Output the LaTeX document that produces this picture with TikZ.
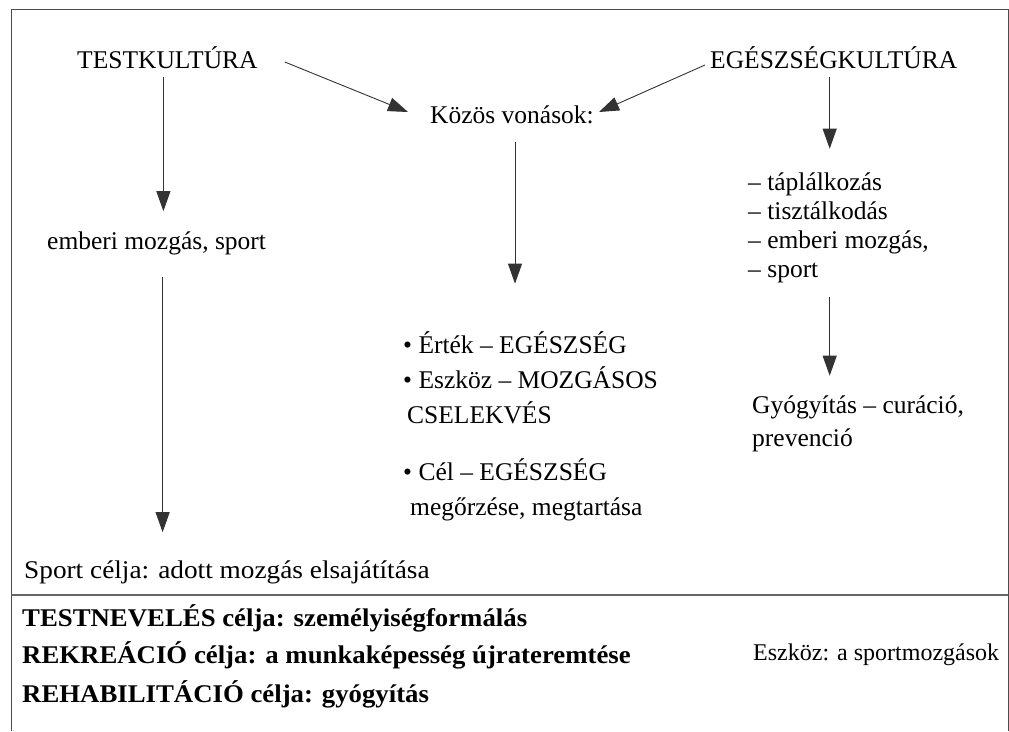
\documentclass[tikz,border=0pt]{standalone}
\usepackage{fontspec}
\setmainfont{Liberation Serif}
\usetikzlibrary{arrows.meta,positioning}

\begin{document}
\begin{tikzpicture}[x=1pt,y=-1pt,
    txt/.style ={inner sep=0pt, anchor=west, align=left, font=\fontsize{25.5}{29}\selectfont},
    goal/.style ={txt, font=\bfseries\fontsize{25.5}{29}\selectfont},
    arr/.style ={draw=black!80, line width=0.9pt, -{Triangle[length=20pt,width=14pt]}}]
   \useasboundingbox (0,0) rectangle (1009,731);
   % frame and divider
   \draw[line width=1pt, black!70] (11,731) -- (11,9) -- (1008,9) -- (1008,731);
   \draw[line width=1.3pt, black!60] (11,595) -- (1008,595);
   % top row
   \node[txt] (tk) at (77,58) {TESTKULTÚRA};
   \node[txt] (eg) at (710,58) {EGÉSZSÉGKULTÚRA};
   \node[txt] (kv) at (430,115) {Közös vonások:};
   % left column
   \node[txt] (emb) at (47,243) {emberi mozgás, sport};
   \node[txt] (sc) at (24,572) {\scalebox{1.07}[1]{Sport célja: adott mozgás elsajátítása}};
   % middle column
   \node[txt, font=\fontsize{25.5}{35}\selectfont] (ert) at (403,378)
      {\textbullet{} Érték – EGÉSZSÉG\\ \textbullet{} Eszköz – MOZGÁSOS\\ \hspace*{4pt}CSELEKVÉS};
   \node[txt, font=\fontsize{25.5}{35}\selectfont] (cel) at (403,490)
      {\textbullet{} Cél – EGÉSZSÉG\\ \hspace*{7pt}megőrzése, megtartása};
   % right column
   \node[txt] (lst) at (748,228)
      {– táplálkozás\\ – tisztálkodás\\ – emberi mozgás,\\ – sport};
   \node[txt, font=\fontsize{25.5}{33}\selectfont] (gyo) at (752,424)
      {Gyógyítás – curáció,\\ prevenció};
   % bottom goals
   \node[goal] (tn) at (22,618) {\scalebox{1.05}[1]{TESTNEVELÉS célja: személyiségformálás}};
   \node[goal] (rk) at (22,655) {\scalebox{1.05}[1]{REKREÁCIÓ célja: a munkaképesség újrateremtése}};
   \node[goal] (rh) at (22,694) {\scalebox{1.05}[1]{REHABILITÁCIÓ célja: gyógyítás}};
   \node[txt, font=\fontsize{24}{29}\selectfont] (esz) at (753,655) {Eszköz: a sportmozgások};
   % arrows
   \draw[arr] ([shift={(27,4)}]tk.east) -- ([shift={(-22,-3)}]kv.west);
   \draw[arr] ([shift={(-5,7)}]eg.west) -- ([shift={(5,-3)}]kv.east);
   \draw[arr, shorten <=8pt, shorten >=20pt] ([xshift=-4pt]tk.south) -- ([xshift=-4pt]tk.south |- emb.north);
   \draw[arr, shorten <=22pt, shorten >=28pt] ([xshift=6pt]emb.south) -- ([xshift=6pt]emb.south |- sc.north);
   \draw[arr, shorten <=18pt, shorten >=48pt] ([xshift=3pt]kv.south) -- ([xshift=3pt]kv.south |- ert.north);
   \draw[arr, shorten <=8pt, shorten >=24pt] ([xshift=-4pt]eg.south) -- ([xshift=-4pt]eg.south |- lst.north);
   \draw[arr, shorten <=14pt, shorten >=20pt] ([xshift=-4pt]eg.south |- lst.south) -- ([xshift=-4pt]eg.south |- gyo.north);
\end{tikzpicture}
\end{document}
